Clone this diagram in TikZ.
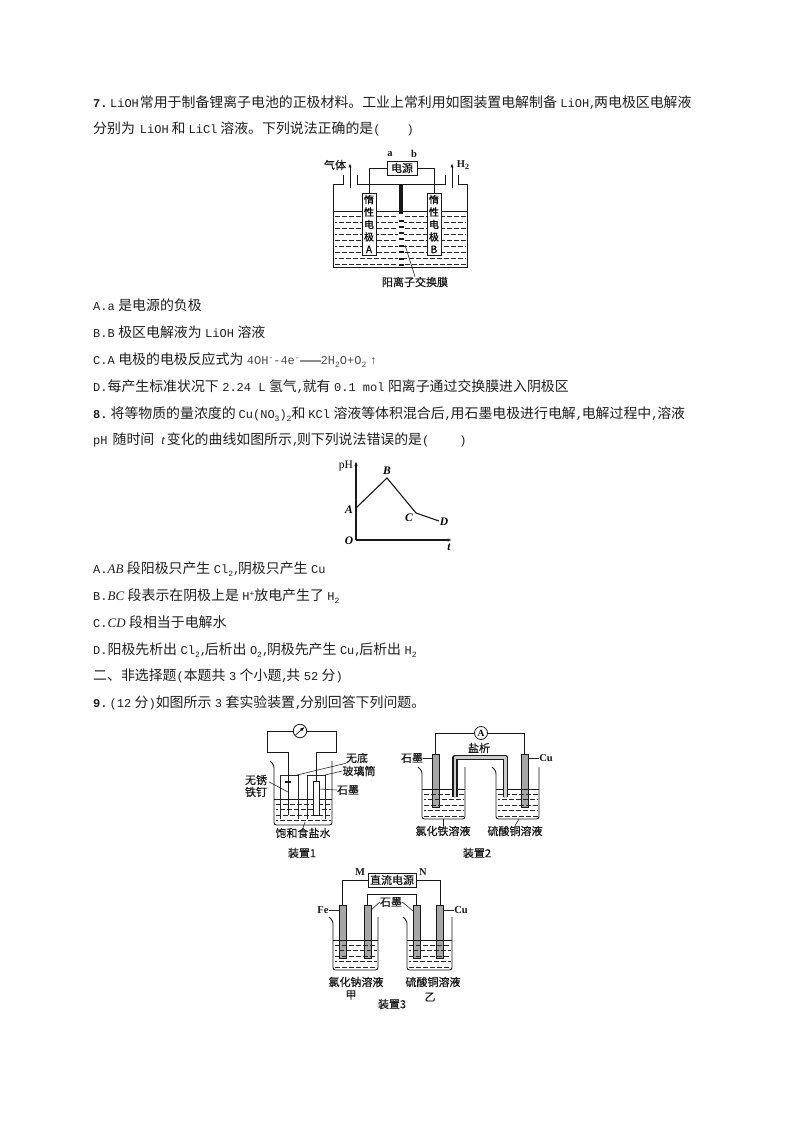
\documentclass[tikz,border=0pt]{standalone}
\usepackage{fontspec}
\setmainfont{Liberation Mono}
\newfontfamily\zh{Noto Sans CJK SC}
\newfontfamily\zhb[AutoFakeBold=0.5]{Noto Sans CJK SC}
\newfontfamily\ser{Liberation Serif}
\usetikzlibrary{arrows.meta}
\newcommand{\dn}[1]{\raisebox{-2.5pt}{\fontsize{8}{8}\selectfont #1}}
\newcommand{\upp}[1]{\raisebox{4pt}{\fontsize{8}{8}\selectfont #1}}
\newcommand{\itt}[1]{{\ser\itshape\fontsize{13}{14}\selectfont #1}}
\newcommand{\z}[1]{{\zh\fontsize{13.9}{14}\selectfont #1}}
\newcommand{\cm}{\makebox[5pt][l]{,}}
\newcommand{\cmw}{\makebox[6pt][l]{,}}
\newcommand{\gp}[1]{\hspace{#1pt}}
\newcommand{\nsp}{\spaceskip=3.5pt\relax}
\newcommand{\beaker}[4]{% left right top bottom
  \draw[ln,rounded corners=2.5pt] (#1-4,#3) -- (#1,#3+4) -- (#1,#4) -- (#2,#4) -- (#2,#3);}
\tikzset{
  txt/.style={anchor=west,inner sep=0pt,text height=10pt,text depth=3pt,font=\fontsize{12}{14}\selectfont,text=black!88,execute at begin node=\nsp},
  lab/.style={inner sep=0pt,font=\zhb\bfseries\fontsize{11}{12}\selectfont,text=black!90},
  latn/.style={inner sep=0pt,font=\ser\bfseries\fontsize{10.5}{12}\selectfont,text=black!90},
  ln/.style={line width=0.9pt,draw=black!90},
  thin1/.style={line width=0.6pt,draw=black!85},
  liq/.style={line width=0.9pt,draw=black!85,dash pattern=on 4.5pt off 2.5pt},
  rod/.style={line width=0.8pt,draw=black!90,fill=black!35},
  tip/.style={-{Latex[length=4.5pt,width=3.2pt]}}
}
\begin{document}
\begin{tikzpicture}[x=1pt,y=-1pt]
\useasboundingbox[fill=white] (0,0) rectangle (794,1123);
% ---- text
\node[txt] (l1) at (93,104) {\textbf{7.}\gp{2.5}LiOH\gp{1}\z{常用于制备锂离子电池的正极材料。工业上常利用如图装置电解制备} LiOH\cm\z{两电极区电解液}};
\node[txt] (l2) at (93,130) {\z{分别为}\gp{5}LiOH\gp{3}\z{和}\gp{3}LiCl\gp{3}\z{溶液。下列说法正确的是}(\hspace{26pt})};
\node[txt] (a1) at (93,307) {A.a \z{是电源的负极}};
\node[txt] (a2) at (93,334) {B.B \z{极区电解液为} LiOH \z{溶液}};
\node[txt] (a3) at (93,361) {C.A \z{电极的电极反应式为} {\color{black!70}4OH\upp{-}-4e\upp{-}\textcolor{black!45}{\rule[3pt]{21pt}{2pt}}2H\dn{2}O+O\dn{2} ↑}};
\node[txt] (a4) at (93,388) {D.\z{每产生标准状况下} 2.24\gp{7.2}L \z{氢气}\cmw\z{就有} 0.1\gp{7.2}mol \z{阳离子通过交换膜进入阴极区}};
\node[txt] (l3) at (93,415) {\textbf{8.}\gp{3}\z{将等物质的量浓度的}\gp{3}Cu(NO\dn{3})\dn{2}\z{和}\gp{3}KCl\gp{3.5}\z{溶液等体积混合后}\cmw\z{用石墨电极进行电解}\cmw\z{电解过程中}\cmw\z{溶液}};
\node[txt] (l4) at (93,441) {pH\gp{5}\z{随时间}\gp{7}\itt{t}\gp{2}\z{变化的曲线如图所示}\cm\z{则下列说法错误的是}(\hspace{30pt})};
\node[txt] (b1) at (93,570) {A.\itt{AB} \z{段阳极只产生} Cl\dn{2}\cm\z{阴极只产生} Cu};
\node[txt] (b2) at (93,597) {B.\itt{BC} \z{段表示在阴极上是} H\upp{+}\z{放电产生了} H\dn{2}};
\node[txt] (b3) at (93,624) {C.\itt{CD} \z{段相当于电解水}};
\node[txt] (b4) at (93,651) {D.\z{阳极先析出} Cl\dn{2}\cm\z{后析出} O\dn{2}\cm\z{阴极先产生} Cu\cm\z{后析出} H\dn{2}};
\node[txt] (s2) at (93,677) {\z{二、非选择题}(\z{本题共} 3 \z{个小题}\cm\z{共} 52 \z{分})};
\node[txt] (l5) at (93,704) {\textbf{9.}\gp{2}(12 \z{分})\z{如图所示} 3 \z{套实验装置}\cm\z{分别回答下列问题。}};
% ---- figure 1: electrolysis tank
\foreach \yy in {216,228,240,252,264}{\draw[liq] (335,\yy) -- (466,\yy);}
\foreach \yy in {222,234,246,258}{\draw[liq,dash phase=3pt] (335,\yy) -- (466,\yy);}
\draw[ln] (333,211) -- (467,211);
\draw[ln] (343,175) -- (343,184) -- (333,184) -- (333,267) -- (467,267) -- (467,184) -- (458,184) -- (458,175);
\draw[ln] (357,175) -- (357,184) -- (445,184) -- (445,175);
\node[draw=black!90,line width=0.8pt,fill=white,minimum width=30pt,minimum height=14pt,inner sep=0pt,lab] (pw1) at (402,168) {电源};
\node[rod,fill=white,minimum width=14pt,minimum height=62pt,inner sep=0pt,font=\zhb\bfseries\fontsize{10}{12.4}\selectfont,align=center] (ea) at (369,224) {惰\\性\\电\\极\\A};
\node[rod,fill=white,minimum width=14pt,minimum height=62pt,inner sep=0pt,font=\zhb\bfseries\fontsize{10}{12.4}\selectfont,align=center] (eb) at (434,224) {惰\\性\\电\\极\\B};
\draw[ln] (pw1.west) -| (ea.north);
\draw[ln] (pw1.east) -| (eb.north);
\fill[black!90] (399,185) rectangle (403,214);
\fill[white] (398,215) rectangle (404,266.5);
\foreach \yy in {220,226,232,238,245,251,258,264}{\fill[black!90] (398.5,\yy) rectangle (403.5,\yy+2.2);}
\draw[ln,tip] (350,188) -- (350,163);
\draw[ln,tip] (452,188) -- (452,163);
\node[lab] (gas) at (335,165) {气体};
\node[latn] (h2) at (463,165) {H\dn{2}};
\node[latn] (ta) at (390,154) {a};
\node[latn] (tb) at (414,154) {b};
\node[lab] (mem) at (415,282) {阳离子交换膜};
\coordinate (mp) at (405,245);
\draw[thin1] (mp) -- (mem.north);
% ---- figure 2: graph
\draw[ln,line width=1.1pt,tip] (356,540) -- (356,461);
\draw[ln,line width=1.1pt,tip] (356,540) -- (452,540);
\coordinate (pA) at (356,508);\coordinate (pB) at (387,478);\coordinate (pC) at (416,513);\coordinate (pD) at (439,521);
\draw[ln,line width=1.1pt] (pA) -- (pB) -- (pC) -- (pD);
\begin{scope}[every node/.style={inner sep=0pt,font=\ser\bfseries\itshape\fontsize{11.5}{12}\selectfont}]
\node (tA) at (349,510) {A};
\node (tB) at (387,471) {B};
\node (tC) at (409,518) {C};
\node (tD) at (444,522) {D};
\node (tO) at (349,541) {O};
\node (tt) at (449,547) {t};
\end{scope}
\node[inner sep=0pt,font=\ser\fontsize{11.5}{12}\selectfont] (tpH) at (346,466) {pH};
% ---- device 1
\foreach \yy in {804,815}{\draw[liq] (276,\yy) -- (331,\yy);}
\foreach \yy in {809.5,820.5}{\draw[liq,dash phase=3pt] (276,\yy) -- (331,\yy);}
\draw[ln] (274,799) -- (332,799);
\beaker{274}{332}{761}{825}
\draw[thin1] (280,819) -- (280,775) -- (298,775) -- (298,819);
\draw[thin1] (307,819) -- (307,775) -- (325,775) -- (325,819);
\node[circle,draw=black!90,line width=0.8pt,fill=white,minimum size=13.5pt,inner sep=0pt] (mt) at (300,731) {};
\draw[line width=0.6pt,tip] (295.5,735) -- (304.5,727);
\node[rod,fill=white,minimum width=6pt,minimum height=34pt,inner sep=0pt] (gr1) at (316,798) {};
\coordinate (w1) at (288,815);
\draw[ln] (mt.west) -- (267,731) -- (267,752) -- (288,752) -- (w1);
\draw[ln] (mt.east) -- (336,731) -- (336,752) -- (316,752) -- (gr1.north);
\draw[line width=1.4pt,black!90] (285,782) -- (291,782);
\node[lab] (t1a) at (357,758) {无底};
\node[lab] (t1b) at (359,771) {玻璃筒};
\node[lab] (t1c) at (256,780) {无锈};
\node[lab] (t1d) at (256,792) {铁钉};
\node[lab] (t1e) at (348,790) {石墨};
\node[lab] (t1f) at (303,833) {饱和食盐水};
\node[lab] (t1g) at (302,853) {装置1};
\coordinate (q1) at (297,775);\coordinate (q2) at (325,775);\coordinate (q3) at (288,792);\coordinate (q4) at (319,789);\coordinate (q5) at (305,822);
\draw[thin1] (q1) -- (t1a.south west);
\draw[thin1] (q2) -- (t1b.west);
\draw[thin1] (t1c.east) ++(2,2) -- (q3);
\draw[thin1] (q4) -- (t1e.west);
\draw[thin1] (q5) -- (t1f.north);
% ---- device 2
\node[rod,minimum width=7pt,minimum height=53pt,inner sep=0pt] (e21) at (435.5,780.5) {};
\node[rod,minimum width=7pt,minimum height=53pt,inner sep=0pt] (e22) at (524.5,780.5) {};
\foreach \yy in {794,805,816}{\draw[liq] (424,\yy) -- (464,\yy);\draw[liq] (498,\yy) -- (538,\yy);}
\foreach \yy in {799.5,810.5}{\draw[liq,dash phase=3pt] (424,\yy) -- (464,\yy);\draw[liq,dash phase=3pt] (498,\yy) -- (538,\yy);}
\draw[ln] (422,789) -- (465,789);
\draw[ln] (496,789) -- (539,789);
\beaker{422}{465}{767}{819}
\beaker{496}{539}{767}{819}
\draw[line width=5.5pt,black!90,line join=round] (455,797) -- (455,757.5) -- (505.5,757.5) -- (505.5,797);
\draw[line width=2.8pt,black!20,line join=round] (455,797.5) -- (455,757.5) -- (505.5,757.5) -- (505.5,797.5);
\node[circle,draw=black!90,line width=0.8pt,fill=white,minimum size=13pt,inner sep=0pt,font=\ser\bfseries\fontsize{9.5}{10}\selectfont] (am) at (481,733) {A};
\draw[ln] (am.west) -| (e21.north);
\draw[ln] (am.east) -| (e22.north);
\node[lab] (t2a) at (412,758) {石墨};
\node[latn] (t2b) at (546,758) {Cu};
\node[lab] (t2c) at (479,748) {盐析};
\node[lab] (t2d) at (443,831) {氯化铁溶液};
\node[lab] (t2e) at (515,831) {硫酸铜溶液};
\node[lab] (t2f) at (477,853) {装置2};
\coordinate (q6) at (443,819);\coordinate (q7) at (519,819);
\draw[thin1] (t2a.east) -- (e21.west |- t2a.east);
\draw[thin1] (e22.east |- t2b.west) -- (t2b.west);
\draw[thin1] (q6) -- (t2d.north);
\draw[thin1] (q7) -- (t2e.north);
% ---- device 3
\node[draw=black!90,line width=0.8pt,fill=white,minimum width=48pt,minimum height=14pt,inner sep=0pt,lab] (pw3) at (392,880) {直流电源};
\node[rod,minimum width=7pt,minimum height=53pt,inner sep=0pt] (e31) at (342.5,931.5) {};
\node[rod,minimum width=7pt,minimum height=53pt,inner sep=0pt] (e32) at (367.5,931.5) {};
\node[rod,minimum width=7pt,minimum height=53pt,inner sep=0pt] (e33) at (416.5,931.5) {};
\node[rod,minimum width=7pt,minimum height=53pt,inner sep=0pt] (e34) at (440,931.5) {};
\foreach \yy in {945,956,967}{\draw[liq] (335,\yy) -- (377,\yy);\draw[liq] (409,\yy) -- (451,\yy);}
\foreach \yy in {950.5,961.5}{\draw[liq,dash phase=3pt] (335,\yy) -- (377,\yy);\draw[liq,dash phase=3pt] (409,\yy) -- (451,\yy);}
\draw[ln] (333,940) -- (378,940);
\draw[ln] (407,940) -- (452,940);
\beaker{333}{378}{917}{970}
\beaker{407}{452}{917}{970}
\draw[ln] (pw3.west) -| (e31.north);
\draw[ln] (pw3.east) -| (e34.north);
\draw[ln] (e32.north) -- (367.5,894) -- (416.5,894) -- (e33.north);
\node[latn] (t3m) at (360,872) {M};
\node[latn] (t3n) at (423,872) {N};
\node[latn] (t3f) at (323,910) {Fe};
\node[latn] (t3c) at (461,910) {Cu};
\node[lab] (t3g) at (391,902) {石墨};
\node[lab] (t3h) at (356,982) {氯化钠溶液};
\node[lab] (t3i) at (433,982) {硫酸铜溶液};
\node[lab] (t3j) at (351,995) {甲};
\node[lab] (t3k) at (430,997) {乙};
\node[lab] (t3l) at (392,1004) {装置3};
\coordinate (q8) at (371,910);\coordinate (q9) at (413,911);
\draw[thin1] (t3f.east) -- (e31.west |- t3f.east);
\draw[thin1] (e34.east |- t3c.west) -- (t3c.west);
\draw[thin1] (t3g.west) -- (q8);
\draw[thin1] (t3g.east) -- (q9);
\end{tikzpicture}
\end{document}
